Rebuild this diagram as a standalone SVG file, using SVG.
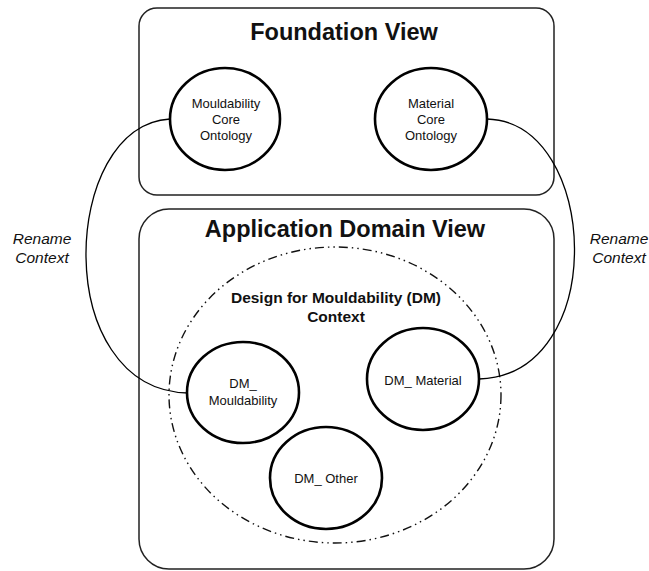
<svg xmlns="http://www.w3.org/2000/svg" width="649" height="571" viewBox="0 0 649 571">
<style>
.box{fill:none;stroke:#222;stroke-width:1.5}
.node{fill:#fff;stroke:#000;stroke-width:2.6}
.conn{fill:none;stroke:#000;stroke-width:1.3}
.ctx{fill:none;stroke:#111;stroke-width:1.4;stroke-dasharray:9 4 1.5 4 1.5 4}
text{font-family:"Liberation Sans",Arial,sans-serif;fill:#111;text-anchor:middle}
.title{font-size:23.5px;font-weight:bold}
.sub{font-size:15.5px;font-weight:bold}
.lbl{font-size:13px}
.it{font-size:15.5px;font-style:italic}
</style>
<rect width="649" height="571" fill="#fff"/>
<g id="foundation-view">
<rect class="box" x="139" y="8" width="415" height="187" rx="18" ry="18"/>
<text class="title" x="344" y="40">Foundation View</text>
</g>
<g id="application-domain-view">
<rect class="box" x="139" y="209" width="415" height="360" rx="30" ry="30"/>
<text class="title" x="345" y="237">Application Domain View</text>
</g>
<g id="dm-context">
<ellipse class="ctx" cx="335" cy="395" rx="166" ry="148"/>
<text class="sub" x="336" y="303">Design for Mouldability (DM)</text>
<text class="sub" x="336" y="322">Context</text>
</g>
<g id="connectors">
<path class="conn" d="M170,119 C60,125 50,390 188,393"/>
<path class="conn" d="M487,119 C600,122 610,375 479,379"/>
</g>
<g id="mouldability-core-ontology">
<ellipse class="node" cx="225" cy="119" rx="55" ry="51"/>
<text class="lbl" x="226" y="108">Mouldability</text>
<text class="lbl" x="226" y="124">Core</text>
<text class="lbl" x="226" y="140">Ontology</text>
</g>
<g id="material-core-ontology">
<ellipse class="node" cx="431" cy="119" rx="56" ry="51"/>
<text class="lbl" x="431" y="108">Material</text>
<text class="lbl" x="431" y="124">Core</text>
<text class="lbl" x="431" y="140">Ontology</text>
</g>
<g id="dm-mouldability">
<ellipse class="node" cx="243" cy="392.5" rx="56" ry="50.5"/>
<text class="lbl" x="243" y="388">DM_</text>
<text class="lbl" x="243" y="405">Mouldability</text>
</g>
<g id="dm-material">
<ellipse class="node" cx="423" cy="379" rx="56" ry="51"/>
<text class="lbl" x="423" y="385">DM_ Material</text>
</g>
<g id="dm-other">
<ellipse class="node" cx="326" cy="478" rx="56" ry="51"/>
<text class="lbl" x="326" y="483">DM_ Other</text>
</g>
<g id="rename-left">
<text class="it" x="42" y="244">Rename</text>
<text class="it" x="42" y="263">Context</text>
</g>
<g id="rename-right">
<text class="it" x="619" y="244">Rename</text>
<text class="it" x="619" y="263">Context</text>
</g>
</svg>
